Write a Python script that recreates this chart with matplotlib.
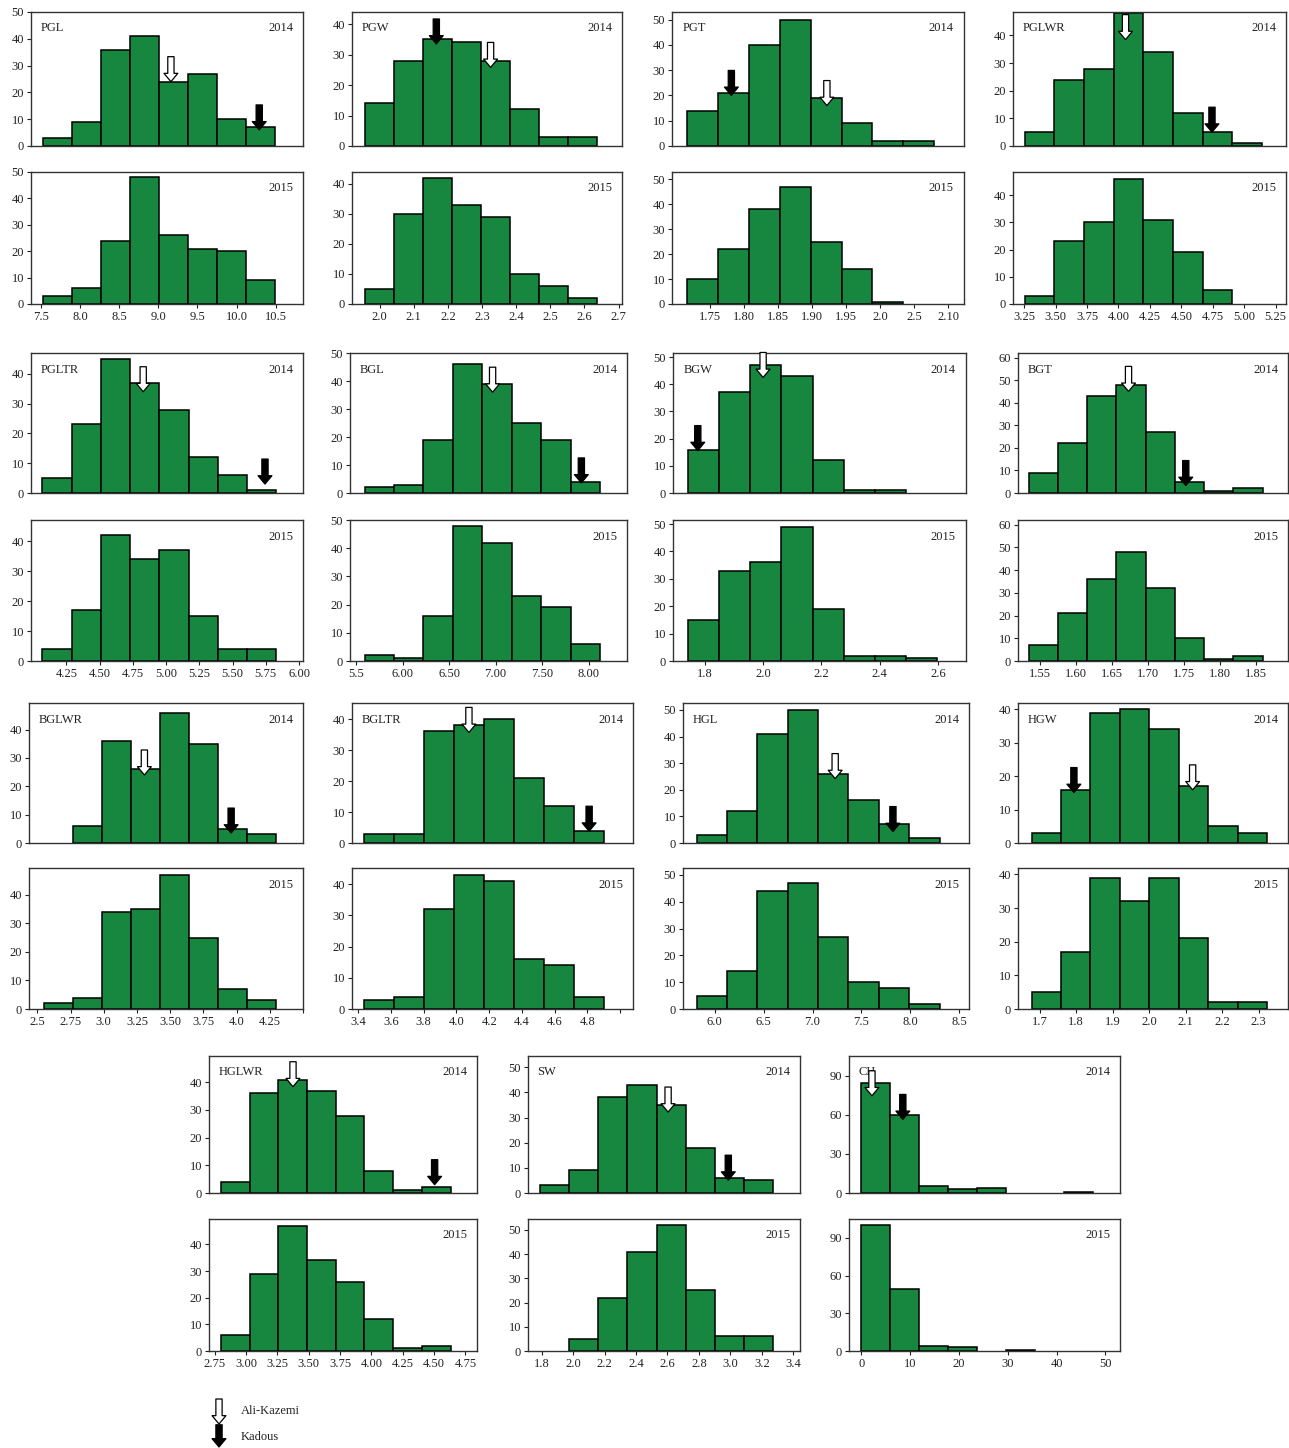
import matplotlib
matplotlib.use('Agg')
import matplotlib.pyplot as plt
from matplotlib.ticker import MultipleLocator

plt.rcParams['font.family'] = ['Liberation Serif', 'DejaVu Serif']
plt.rcParams['font.size'] = 9

GREEN = '#17873f'
W, H = 1289, 1448

# ---- data: bins = (first edge, bin width), counts per year, x ticks, arrows (kind, x, y)
PGL_BINS = (7.52, 0.372)
PGL_2014 = [3, 9, 36, 41, 24, 27, 10, 7]
PGL_2015 = [3, 6, 24, 48, 26, 21, 20, 9]
PGL_TICKS = [7.5, 8.0, 8.5, 9.0, 9.5, 10.0, 10.5]
PGL_LABELS = ['7.5', '8.0', '8.5', '9.0', '9.5', '10.0', '10.5']
PGL_ARROWS = [('w', 9.16, 24), ('k', 10.29, 6)]

PGW_BINS = (1.958, 0.085)
PGW_2014 = [14, 28, 35, 34, 28, 12, 3, 3]
PGW_2015 = [5, 30, 42, 33, 29, 10, 6, 2]
PGW_TICKS = [2.0, 2.1, 2.2, 2.3, 2.4, 2.5, 2.6, 2.7]
PGW_LABELS = ['2.0', '2.1', '2.2', '2.3', '2.4', '2.5', '2.6', '2.7']
PGW_ARROWS = [('k', 2.166, 33.5), ('w', 2.325, 25.8)]

PGT_BINS = (1.717, 0.0453)
PGT_2014 = [14, 21, 40, 50, 19, 9, 2, 2]
PGT_2015 = [10, 22, 38, 47, 25, 14, 1]
PGT_TICKS = [1.75, 1.80, 1.85, 1.90, 1.95, 2.00, 2.05, 2.10]
PGT_LABELS = ['1.75', '1.80', '1.85', '1.90', '1.95', '2.0', '2.5', '2.10']
PGT_ARROWS = [('k', 1.782, 20), ('w', 1.922, 16)]

PGLWR_BINS = (3.253, 0.236)
PGLWR_2014 = [5, 24, 28, 48, 34, 12, 5, 1]
PGLWR_2015 = [3, 23, 30, 46, 31, 19, 5]
PGLWR_TICKS = [3.25, 3.50, 3.75, 4.00, 4.25, 4.50, 4.75, 5.00, 5.25]
PGLWR_LABELS = ['3.25', '3.50', '3.75', '4.00', '4.25', '4.50', '4.75', '5.00', '5.25']
PGLWR_ARROWS = [('w', 4.056, 38.5), ('k', 4.744, 5)]

PGLTR_BINS = (4.069, 0.22)
PGLTR_2014 = [5, 23, 45, 37, 28, 12, 6, 1]
PGLTR_2015 = [4, 17, 42, 34, 37, 15, 4, 4]
PGLTR_TICKS = [4.25, 4.50, 4.75, 5.00, 5.25, 5.50, 5.75, 6.00]
PGLTR_LABELS = ['4.25', '4.50', '4.75', '5.00', '5.25', '5.50', '5.75', '6.00']
PGLTR_ARROWS = [('w', 4.828, 34), ('k', 5.744, 3)]

BGL_BINS = (5.589, 0.317)
BGL_2014 = [2, 3, 19, 46, 39, 25, 19, 4]
BGL_2015 = [2, 1, 16, 48, 42, 23, 19, 6]
BGL_TICKS = [5.5, 6.0, 6.5, 7.0, 7.5, 8.0]
BGL_LABELS = ['5.5', '6.00', '6.50', '7.00', '7.50', '8.00']
BGL_ARROWS = [('w', 6.967, 36), ('k', 7.922, 3.6)]

BGW_BINS = (1.742, 0.107)
BGW_2014 = [16, 37, 47, 43, 12, 1, 1]
BGW_2015 = [15, 33, 36, 49, 19, 2, 2, 1]
BGW_TICKS = [1.8, 2.0, 2.2, 2.4, 2.6]
BGW_LABELS = ['1.8', '2.0', '2.2', '2.4', '2.6']
BGW_ARROWS = [('k', 1.776, 15.6), ('w', 2.0, 42.5)]

BGT_BINS = (1.535, 0.0406)
BGT_2014 = [9, 22, 43, 48, 27, 5, 1, 2]
BGT_2015 = [7, 21, 36, 48, 32, 10, 1, 2]
BGT_TICKS = [1.55, 1.60, 1.65, 1.70, 1.75, 1.80, 1.85]
BGT_LABELS = ['1.55', '1.60', '1.65', '1.70', '1.75', '1.80', '1.85']
BGT_ARROWS = [('w', 1.6735, 45), ('k', 1.753, 3.3)]

BGLWR_BINS = (2.547, 0.219)
BGLWR_2014 = [0, 6, 36, 26, 46, 35, 5, 3]
BGLWR_2015 = [2, 4, 34, 35, 47, 25, 7, 3]
BGLWR_TICKS = [2.5, 2.75, 3.0, 3.25, 3.5, 3.75, 4.0, 4.25, 4.5]
BGLWR_LABELS = ['2.5', '2.75', '3.0', '3.25', '3.50', '3.75', '4.0', '4.25', '']
BGLWR_ARROWS = [('w', 3.306, 24), ('k', 3.959, 3.5)]

BGLTR_BINS = (3.438, 0.183)
BGLTR_2014 = [3, 3, 36, 38, 40, 21, 12, 4]
BGLTR_2015 = [3, 4, 32, 43, 41, 16, 14, 4]
BGLTR_TICKS = [3.4, 3.6, 3.8, 4.0, 4.2, 4.4, 4.6, 4.8, 5.0]
BGLTR_LABELS = ['3.4', '3.6', '3.8', '4.0', '4.2', '4.4', '4.6', '4.8', '']
BGLTR_ARROWS = [('w', 4.076, 35.7), ('k', 4.81, 3.8)]

HGL_BINS = (5.817, 0.31)
HGL_2014 = [3, 12, 41, 50, 26, 16, 7, 2]
HGL_2015 = [5, 14, 44, 47, 27, 10, 8, 2]
HGL_TICKS = [6.0, 6.5, 7.0, 7.5, 8.0, 8.5]
HGL_LABELS = ['6.0', '6.5', '7.0', '7.5', '8.0', '8.5']
HGL_ARROWS = [('w', 7.231, 24.2), ('k', 7.821, 4.3)]

HGW_BINS = (1.678, 0.0806)
HGW_2014 = [3, 16, 39, 40, 34, 17, 5, 3]
HGW_2015 = [5, 17, 39, 32, 39, 21, 2, 2]
HGW_TICKS = [1.7, 1.8, 1.9, 2.0, 2.1, 2.2, 2.3]
HGW_LABELS = ['1.7', '1.8', '1.9', '2.0', '2.1', '2.2', '2.3']
HGW_ARROWS = [('k', 1.794, 15.1), ('w', 2.119, 15.9)]

HGLWR_BINS = (2.80, 0.229)
HGLWR_2014 = [4, 36, 41, 37, 28, 8, 1, 2]
HGLWR_2015 = [6, 29, 47, 34, 26, 12, 1, 2]
HGLWR_TICKS = [2.75, 3.0, 3.25, 3.5, 3.75, 4.0, 4.25, 4.5, 4.75]
HGLWR_LABELS = ['2.75', '3.00', '3.25', '3.50', '3.75', '4.00', '4.25', '4.50', '4.75']
HGLWR_ARROWS = [('w', 3.375, 38.4), ('k', 4.505, 3.0)]

SW_BINS = (1.789, 0.1855)
SW_2014 = [3, 9, 38, 43, 35, 18, 6, 5]
SW_2015 = [0, 5, 22, 41, 52, 25, 6, 6]
SW_TICKS = [1.8, 2.0, 2.2, 2.4, 2.6, 2.8, 3.0, 3.2, 3.4]
SW_LABELS = ['1.8', '2.0', '2.2', '2.4', '2.6', '2.8', '3.0', '3.2', '3.4']
SW_ARROWS = [('w', 2.604, 32.2), ('k', 2.987, 5.1)]

CH_BINS = (0, 5.93)
CH_2014 = [84, 60, 5, 3, 4, 0, 0, 1]
CH_2015 = [100, 49, 4, 3, 0, 1]
CH_TICKS = [0, 10, 20, 30, 40, 50]
CH_LABELS = ['0', '10', '20', '30', '40', '50']
CH_ARROWS = [('w', 2.17, 74.5), ('k', 8.5, 56.4)]

# ---- layout (pixels): rows per group = (top14, bottom14, top15, bottom15)
ROWS = [(12, 146, 172, 304), (353, 493, 520, 661),
        (703, 843, 868, 1009), (1056, 1193, 1219, 1351)]

panels = [
    # name, bins, 2014, 2015, ticks, labels, arrows, group, (left, right), xlim, ymax, ystep
    ('PGL', PGL_BINS, PGL_2014, PGL_2015, PGL_TICKS, PGL_LABELS, PGL_ARROWS, 0, (31, 303), (7.37, 10.85), 50, 10),
    ('PGW', PGW_BINS, PGW_2014, PGW_2015, PGW_TICKS, PGW_LABELS, PGW_ARROWS, 0, (352, 622), (1.919, 2.71), 44, 10),
    ('PGT', PGT_BINS, PGT_2014, PGT_2015, PGT_TICKS, PGT_LABELS, PGT_ARROWS, 0, (672, 964), (1.695, 2.123), 53, 10),
    ('PGLWR', PGLWR_BINS, PGLWR_2014, PGLWR_2015, PGLWR_TICKS, PGLWR_LABELS, PGLWR_ARROWS, 0, (1013, 1286), (3.161, 5.333), 48.5, 10),
    ('PGLTR', PGLTR_BINS, PGLTR_2014, PGLTR_2015, PGLTR_TICKS, PGLTR_LABELS, PGLTR_ARROWS, 1, (31, 303), (3.984, 6.03), 47, 10),
    ('BGL', BGL_BINS, BGL_2014, BGL_2015, BGL_TICKS, BGL_LABELS, BGL_ARROWS, 1, (350, 627), (5.433, 8.413), 50, 10),
    ('BGW', BGW_BINS, BGW_2014, BGW_2015, BGW_TICKS, BGW_LABELS, BGW_ARROWS, 1, (673, 966), (1.691, 2.696), 51.5, 10),
    ('BGT', BGT_BINS, BGT_2014, BGT_2015, BGT_TICKS, BGT_LABELS, BGT_ARROWS, 1, (1018, 1288), (1.52, 1.895), 62, 10),
    ('BGLWR', BGLWR_BINS, BGLWR_2014, BGLWR_2015, BGLWR_TICKS, BGLWR_LABELS, BGLWR_ARROWS, 2, (29, 303), (2.4375, 4.5), 49.4, 10),
    ('BGLTR', BGLTR_BINS, BGLTR_2014, BGLTR_2015, BGLTR_TICKS, BGLTR_LABELS, BGLTR_ARROWS, 2, (352, 633), (3.362, 5.078), 45.2, 10),
    ('HGL', HGL_BINS, HGL_2014, HGL_2015, HGL_TICKS, HGL_LABELS, HGL_ARROWS, 2, (683, 969), (5.677, 8.598), 52.6, 10),
    ('HGW', HGW_BINS, HGW_2014, HGW_2015, HGW_TICKS, HGW_LABELS, HGW_ARROWS, 2, (1018, 1288), (1.641, 2.38), 41.9, 10),
    ('HGLWR', HGLWR_BINS, HGLWR_2014, HGLWR_2015, HGLWR_TICKS, HGLWR_LABELS, HGLWR_ARROWS, 3, (209, 477), (2.705, 4.843), 49.5, 10),
    ('SW', SW_BINS, SW_2014, SW_2015, SW_TICKS, SW_LABELS, SW_ARROWS, 3, (528, 800), (1.713, 3.443), 54.5, 10),
    ('CH', CH_BINS, CH_2014, CH_2015, CH_TICKS, CH_LABELS, CH_ARROWS, 3, (849, 1120), (-2.53, 53), 105, 30),
]


def rect(l, r, t, b):
    return [l / W, 1 - b / H, (r - l) / W, (b - t) / H]


def arrow(ax, x, y, kind, length=18):
    ax.annotate('', xy=(x, y), xytext=(0, length), textcoords='offset points',
                arrowprops=dict(arrowstyle='simple,head_length=0.6,head_width=1.0,tail_width=0.45',
                                mutation_scale=10, fc='white' if kind == 'w' else 'black',
                                ec='black', lw=0.9, shrinkA=0, shrinkB=0),
                zorder=5, annotation_clip=False)


def draw(ax, bins, counts, xlim, ymax, ystep):
    start, width = bins
    lefts = [start + i * width for i in range(len(counts))]
    bars = ax.bar(lefts, counts, width=width, align='edge', color=GREEN,
                  edgecolor='black', linewidth=1.1, zorder=2)
    # empty bins: no outline along the baseline
    for b, c in zip(bars, counts):
        if c == 0:
            b.set_visible(False)
    ax.set_xlim(*xlim)
    ax.set_ylim(0, ymax)
    ax.yaxis.set_major_locator(MultipleLocator(ystep))
    for s in ax.spines.values():
        s.set_color('#333333')
        s.set_linewidth(1.0)
    ax.tick_params(direction='out', length=3, width=0.8, pad=2, colors='#222222', labelsize=9)


fig = plt.figure(figsize=(W / 100, H / 100), dpi=100)

for name, bins, c14, c15, ticks, labels, arrows, g, (l, r), xlim, ymax, ystep in panels:
    t14, b14, t15, b15 = ROWS[g]

    ax1 = fig.add_axes(rect(l, r, t14, b14))
    draw(ax1, bins, c14, xlim, ymax, ystep)
    ax1.set_xticks([])
    ax1.text(0.035, 0.88, name, transform=ax1.transAxes, va='center', ha='left', color='#222222')
    ax1.text(0.965, 0.88, '2014', transform=ax1.transAxes, va='center', ha='right', color='#222222')
    for kind, x, y in arrows:
        arrow(ax1, x, y, kind)

    ax2 = fig.add_axes(rect(l, r, t15, b15))
    draw(ax2, bins, c15, xlim, ymax, ystep)
    ax2.set_xticks(ticks)
    ax2.set_xticklabels(labels)
    ax2.text(0.965, 0.88, '2015', transform=ax2.transAxes, va='center', ha='right', color='#222222')

# legend at bottom left
lg = fig.add_axes([0, 0, 1, 1])
lg.set_xlim(0, W)
lg.set_ylim(H, 0)
lg.axis('off')
arrow(lg, 219, 1424, 'w')
arrow(lg, 219, 1447, 'k', length=16)
lg.text(241, 1411, 'Ali-Kazemi', va='center', ha='left', color='#222222')
lg.text(241, 1437, 'Kadous', va='center', ha='left', color='#222222')

fig.savefig('out.png', dpi=100)
